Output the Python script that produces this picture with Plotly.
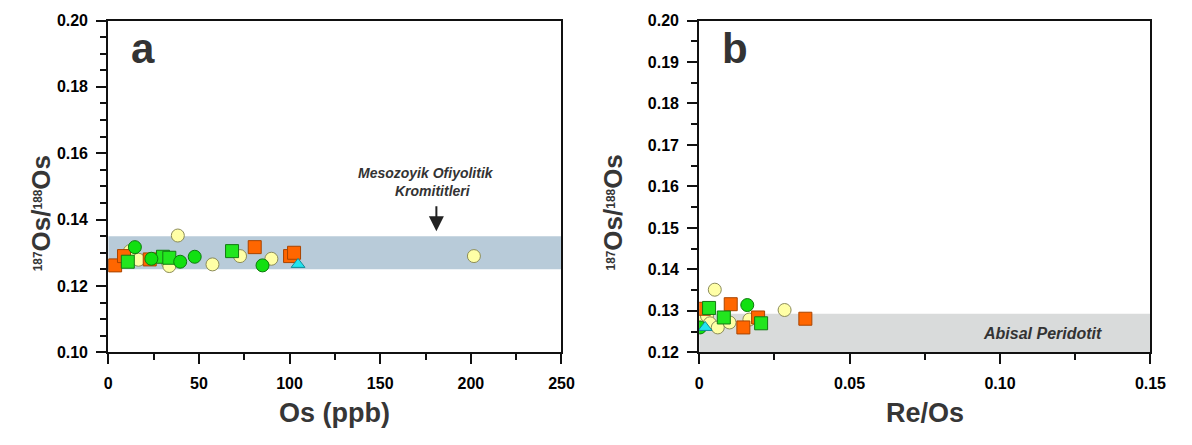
import plotly.graph_objects as go

# ---- Panel a: Os (ppb) vs 187Os/188Os ----
os_orange = [3.8, 8.7, 22.9, 80.8, 100.3, 102.5]
ratio_orange_a = [0.1262, 0.1290, 0.1280, 0.1317, 0.1290, 0.1300]
os_yellow = [12.0, 16.7, 33.0, 33.7, 38.4, 57.5, 72.7, 90.0, 201.7]
ratio_yellow_a = [0.1305, 0.1279, 0.1270, 0.1260, 0.1352, 0.1265, 0.1290, 0.1282, 0.1290]
os_green_sq = [10.8, 30.2, 33.7, 68.3]
ratio_green_sq_a = [0.1273, 0.1288, 0.1285, 0.1305]
os_green_ci = [14.7, 23.8, 39.7, 47.7, 85.1]
ratio_green_ci_a = [0.1317, 0.1282, 0.1273, 0.1288, 0.1262]
os_cyan = [104.7]
ratio_cyan_a = [0.1265]

# ---- Panel b: Re/Os vs 187Os/188Os ----
reos_orange = [0.0016, 0.0105, 0.0147, 0.0196, 0.0353]
ratio_orange_b = [0.1305, 0.1316, 0.1260, 0.1284, 0.1281]
reos_yellow = [0.0010, 0.0026, 0.0036, 0.0052, 0.0062, 0.0101, 0.0167, 0.0284]
ratio_yellow_b = [0.1288, 0.1288, 0.1270, 0.1351, 0.1260, 0.1272, 0.1279, 0.1302]
reos_green_sq = [0.0033, 0.0082, 0.0206]
ratio_green_sq_b = [0.1307, 0.1284, 0.1270]
reos_green_ci = [0.0003, 0.0160]
ratio_green_ci_b = [0.1260, 0.1314]
reos_cyan = [0.0020]
ratio_cyan_b = [0.1260]

# reference fields
meso_band = [0.125, 0.135]      # Mesozoyik ofiyolitik kromititler
abyssal_band = [0.120, 0.1293]  # Abisal peridotit

x_ticks_a = [0, 50, 100, 150, 200, 250]
y_ticks_a = [0.10, 0.12, 0.14, 0.16, 0.18, 0.20]
x_ticks_b = [0, 0.05, 0.10, 0.15]
y_ticks_b = [0.12, 0.13, 0.14, 0.15, 0.16, 0.17, 0.18, 0.19, 0.20]

styles = {
    "yellow": dict(symbol="circle", size=13, color="#ffffa6", line=dict(color="#8c8c5a", width=1)),
    "orange": dict(symbol="square", size=13, color="#ff6600", line=dict(color="#a84400", width=1)),
    "green_sq": dict(symbol="square", size=13, color="#22e61e", line=dict(color="#137a13", width=1)),
    "green_ci": dict(symbol="circle", size=13, color="#11e011", line=dict(color="#0d7a0d", width=1)),
    "cyan": dict(symbol="triangle-up", size=12, color="#22e4ee", line=dict(color="#128a99", width=1)),
}

fig = go.Figure()

def add_group(x, y, key, xa, ya):
    fig.add_trace(go.Scatter(x=x, y=y, mode="markers", marker=styles[key],
                             xaxis=xa, yaxis=ya, showlegend=False, hoverinfo="x+y"))

for xa, ya, groups in [
    ("x", "y", [(os_yellow, ratio_yellow_a, "yellow"), (os_orange, ratio_orange_a, "orange"),
                (os_green_sq, ratio_green_sq_a, "green_sq"), (os_green_ci, ratio_green_ci_a, "green_ci"),
                (os_cyan, ratio_cyan_a, "cyan")]),
    ("x2", "y2", [(reos_yellow, ratio_yellow_b, "yellow"), (reos_orange, ratio_orange_b, "orange"),
                  (reos_green_sq, ratio_green_sq_b, "green_sq"), (reos_green_ci, ratio_green_ci_b, "green_ci"),
                  (reos_cyan, ratio_cyan_b, "cyan")]),
]:
    for gx, gy, key in groups:
        add_group(gx, gy, key, xa, ya)

W, H = 1192, 445
def px(v):
    return v / W
def py(v):
    return (H - v) / H

tickfont = dict(family="Liberation Sans, Arial", size=16, color="#000000", weight="bold")
axis_common = dict(showline=True, linecolor="#111111", linewidth=2, mirror=True,
                   ticks="outside", ticklen=10, tickwidth=2, tickcolor="#111111",
                   ticklabelstandoff=5,
                   showgrid=False, zeroline=False, tickfont=tickfont,
                   minor=dict(ticks="outside", ticklen=6, tickwidth=2, tickcolor="#111111", showgrid=False))

fig.update_layout(
    width=W, height=H, margin=dict(l=0, r=0, t=0, b=0),
    paper_bgcolor="white", plot_bgcolor="white",
    font=dict(family="Liberation Sans, Arial"),
    xaxis=dict(domain=[px(106), px(567)], range=[0, 250], tickvals=x_ticks_a,
               ticktext=["%g" % v for v in x_ticks_a],
               minor_dtick=25, anchor="y", **axis_common),
    yaxis=dict(domain=[py(358), py(13)], range=[0.10, 0.20], tickvals=y_ticks_a,
               ticktext=["%.2f" % v for v in y_ticks_a],
               minor_dtick=0.005, anchor="x", **axis_common),
    xaxis2=dict(domain=[px(707), px(1166)], range=[0, 0.15], tickvals=x_ticks_b,
                ticktext=["0"] + ["%.2f" % v for v in x_ticks_b[1:]],
                minor_dtick=0.025, anchor="y2", **axis_common),
    yaxis2=dict(domain=[py(358), py(13)], range=[0.12, 0.20], tickvals=y_ticks_b,
                ticktext=["%.2f" % v for v in y_ticks_b],
                minor_dtick=0.005, anchor="x2", **axis_common),
)

fig.add_shape(type="rect", xref="x", yref="y", x0=0, x1=250, y0=meso_band[0], y1=meso_band[1],
              fillcolor="#b8cbd9", line_width=0, layer="below")
fig.add_shape(type="rect", xref="x2", yref="y2", x0=0, x1=0.15, y0=abyssal_band[0], y1=abyssal_band[1],
              fillcolor="#d9dbdb", line_width=0, layer="below")

title_color = "#363636"

def label(text, x, y, size, color="#333333", angle=0):
    return dict(text=text, x=px(x), y=py(y), xref="paper", yref="paper", xanchor="center",
                yanchor="middle", showarrow=False, textangle=angle,
                font=dict(size=size, color=color, family="Liberation Sans, Arial"))

ytitle = ("<b><span style='font-size:17px'><sup>187</sup></span>Os/"
          "<span style='font-size:17px'><sup>188</sup></span>Os</b>")
ann = [
    label("<b>Os (ppb)</b>", 336, 421, 27, title_color),
    label("<b>Re/Os</b>", 937, 421, 27, title_color),
    label(ytitle, 37, 213, 26, title_color, -90),
    label(ytitle, 619, 213, 26, title_color, -90),
    label("<b>a</b>", 141, 42, 42, "#333333"),
    label("<b>b</b>", 743, 42, 42, "#333333"),
    label("<b><i>Mesozoyik Ofiyolitik</i></b>", 429, 172, 14),
    label("<b><i>Kromititleri</i></b>", 436, 190, 14),
    label("<b><i>Abisal Peridotit</i></b>", 1056, 338, 16),
]
ann.append(dict(text="", x=181, y=0.1365, xref="x", yref="y", ax=181, ay=0.1445, axref="x", ayref="y",
                showarrow=True, arrowhead=2, arrowsize=1.5, arrowwidth=2, arrowcolor="#222222"))
fig.update_layout(annotations=ann)

fig.write_html("out.html")
